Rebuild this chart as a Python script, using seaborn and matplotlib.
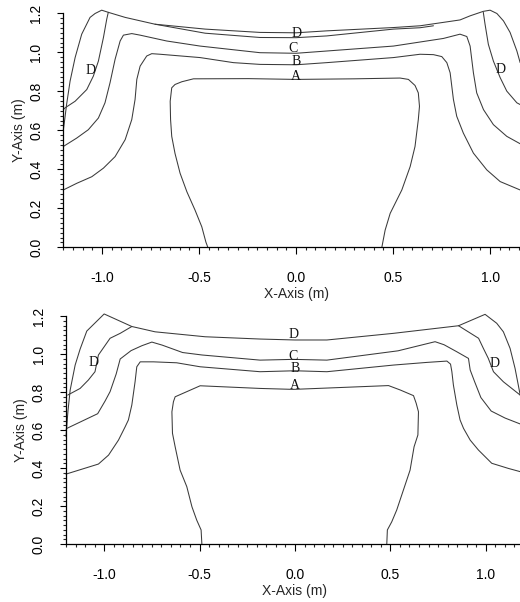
import matplotlib
matplotlib.use("Agg")
import matplotlib.pyplot as plt
from matplotlib.ticker import MultipleLocator, FormatStrFormatter
import seaborn as sns
import pandas as pd

# ---- contour polylines, upper panel (x, y in metres) ----
top_A = [(-0.455, 0.0), (-0.465, 0.027), (-0.486, 0.105), (-0.521, 0.191), (-0.563, 0.285),
         (-0.598, 0.380), (-0.624, 0.481), (-0.641, 0.569), (-0.647, 0.655), (-0.649, 0.749),
         (-0.641, 0.818), (-0.624, 0.835), (-0.589, 0.849), (-0.529, 0.864), (-0.246, 0.865),
         (0.0, 0.861), (0.30, 0.864), (0.536, 0.868), (0.579, 0.861), (0.613, 0.830),
         (0.630, 0.792), (0.636, 0.723), (0.630, 0.655), (0.613, 0.517), (0.588, 0.414),
         (0.545, 0.294), (0.485, 0.174), (0.459, 0.088), (0.442, 0.0)]
top_B = [(-1.2, 0.294), (-1.131, 0.328), (-1.053, 0.362), (-0.993, 0.406), (-0.933, 0.465),
         (-0.881, 0.552), (-0.847, 0.655), (-0.830, 0.758), (-0.821, 0.861), (-0.804, 0.929),
         (-0.770, 0.981), (-0.744, 0.993), (-0.701, 0.990), (-0.495, 0.973), (-0.323, 0.947),
         (-0.186, 0.938), (0.0, 0.936), (0.158, 0.947), (0.502, 0.973), (0.639, 0.990),
         (0.708, 0.988), (0.751, 0.978), (0.777, 0.947), (0.794, 0.895), (0.811, 0.758),
         (0.828, 0.672), (0.862, 0.586), (0.914, 0.483), (0.983, 0.397), (1.052, 0.337),
         (1.155, 0.294)]
top_C = [(-1.2, 0.517), (-1.131, 0.560), (-1.071, 0.603), (-1.019, 0.663), (-0.985, 0.741),
         (-0.959, 0.844), (-0.933, 0.964), (-0.907, 1.058), (-0.890, 1.088), (-0.847, 1.096),
         (-0.804, 1.088), (-0.667, 1.058), (-0.495, 1.032), (-0.186, 0.998), (0.0, 0.995),
         (0.502, 1.032), (0.759, 1.071), (0.845, 1.093), (0.880, 1.081), (0.897, 1.032),
         (0.914, 0.895), (0.931, 0.792), (0.966, 0.706), (1.017, 0.629), (1.086, 0.569),
         (1.155, 0.531)]
top_D_outer = [(-1.2, 0.600), (-1.192, 0.660), (-1.183, 0.732), (-1.165, 0.852), (-1.139, 0.973),
               (-1.105, 1.093), (-1.062, 1.179), (-1.036, 1.199), (-1.002, 1.216), (-0.968, 1.205),
               (-0.881, 1.179), (-0.727, 1.144), (-0.469, 1.119), (-0.186, 1.102), (0.0, 1.100),
               (0.158, 1.110), (0.502, 1.127), (0.639, 1.136), (0.845, 1.166), (0.897, 1.187),
               (0.965, 1.210), (1.0, 1.216), (1.035, 1.199), (1.069, 1.161), (1.103, 1.102),
               (1.138, 1.007), (1.155, 0.947)]
top_D_lower = [(-0.727, 1.144), (-0.469, 1.098), (-0.186, 1.076), (0.0, 1.075), (0.158, 1.084),
               (0.502, 1.119), (0.639, 1.126), (0.708, 1.136)]
top_D_left = [(-1.2, 0.706), (-1.191, 0.715), (-1.139, 0.749), (-1.079, 0.809), (-1.045, 0.878),
              (-1.019, 0.955), (-0.993, 1.076), (-0.976, 1.170), (-0.968, 1.205)]
top_D_right = [(0.965, 1.205), (0.974, 1.144), (0.991, 1.041), (1.017, 0.955), (1.052, 0.870),
               (1.086, 0.801), (1.138, 0.741), (1.155, 0.732)]

# ---- contour polylines, lower panel ----
bot_A = [(-0.488, 0.0), (-0.492, 0.074), (-0.515, 0.126), (-0.540, 0.196), (-0.567, 0.302),
         (-0.602, 0.389), (-0.628, 0.512), (-0.642, 0.583), (-0.645, 0.696), (-0.637, 0.749),
         (-0.628, 0.775), (-0.567, 0.802), (-0.497, 0.833), (-0.183, 0.819), (-0.008, 0.814),
         (0.167, 0.821), (0.490, 0.834), (0.551, 0.811), (0.621, 0.781), (0.635, 0.741),
         (0.647, 0.696), (0.644, 0.574), (0.624, 0.512), (0.603, 0.389), (0.568, 0.284),
         (0.533, 0.179), (0.507, 0.117), (0.484, 0.074), (0.481, 0.0)]
bot_B = [(-1.2, 0.368), (-1.030, 0.421), (-0.977, 0.468), (-0.925, 0.547), (-0.890, 0.617),
         (-0.873, 0.653), (-0.855, 0.732), (-0.838, 0.854), (-0.829, 0.933), (-0.811, 0.959),
         (-0.742, 0.959), (-0.620, 0.954), (-0.497, 0.933), (-0.183, 0.907), (0.0, 0.912),
         (0.167, 0.907), (0.516, 0.942), (0.691, 0.956), (0.796, 0.963), (0.815, 0.947),
         (0.822, 0.907), (0.830, 0.837), (0.848, 0.732), (0.865, 0.653), (0.883, 0.609),
         (0.918, 0.547), (0.961, 0.495), (1.031, 0.425), (1.118, 0.398), (1.180, 0.381)]
bot_C = [(-1.2, 0.604), (-1.195, 0.609), (-1.034, 0.686), (-0.995, 0.753), (-0.969, 0.802),
         (-0.937, 0.895), (-0.916, 0.974), (-0.859, 1.018), (-0.802, 1.044), (-0.750, 1.063),
         (-0.696, 1.047), (-0.589, 1.008), (-0.487, 0.995), (-0.183, 0.968), (-0.008, 0.972),
         (0.167, 0.968), (0.540, 1.017), (0.734, 1.065), (0.781, 1.049), (0.848, 1.012),
         (0.909, 0.977), (0.918, 0.916), (0.941, 0.855), (0.974, 0.771), (1.028, 0.700),
         (1.101, 0.663), (1.180, 0.632)]
bot_D_outer = [(-1.2, 0.565), (-1.190, 0.696), (-1.178, 0.811), (-1.152, 0.942), (-1.126, 1.026),
               (-1.091, 1.121), (-1.0, 1.211), (-0.855, 1.145), (-0.733, 1.117), (-0.471, 1.091),
               (-0.183, 1.079), (0.0, 1.074), (0.167, 1.074), (0.516, 1.109), (0.857, 1.149),
               (0.996, 1.209), (1.057, 1.162), (1.092, 1.117), (1.127, 1.030), (1.153, 0.925),
               (1.170, 0.837), (1.180, 0.784)]
bot_D_left = [(-1.191, 0.784), (-1.126, 0.819), (-1.083, 0.863), (-1.048, 0.907), (-1.030, 0.995),
              (-0.969, 1.083), (-0.916, 1.109), (-0.855, 1.145)]
bot_D_right = [(0.857, 1.149), (0.962, 1.083), (0.987, 1.030), (1.013, 0.977), (1.040, 0.907),
               (1.092, 0.854), (1.180, 0.784)]

# ---- contour level labels (letter, x, y) ----
top_labels = [("D", -1.062, 0.907), ("D", 0.0, 1.098), ("C", -0.014, 1.019),
              ("B", 0.0, 0.955), ("A", 0.0, 0.875), ("D", 1.055, 0.912)]
bot_labels = [("D", -1.057, 0.958), ("D", -0.008, 1.105), ("C", -0.008, 0.989),
              ("B", 0.0, 0.925), ("A", 0.0, 0.837), ("D", 1.048, 0.951)]

x_ticks = [-1.0, -0.5, 0.0, 0.5, 1.0]
y_ticks = [0.0, 0.2, 0.4, 0.6, 0.8, 1.0, 1.2]

sns.set_style("ticks")
plt.rcParams["font.family"] = ["Liberation Sans", "DejaVu Sans"]
plt.rcParams["axes.unicode_minus"] = False

LINE = "#3a3a3a"

fig = plt.figure(figsize=(5.2, 6.02), dpi=100)
ax_top = fig.add_axes([0.1217, 0.5892, 0.8954, 0.3887])
ax_bot = fig.add_axes([0.1269, 0.0963, 0.8808, 0.3787])


def draw_panel(ax, lines, labels):
    for seg in lines:
        df = pd.DataFrame(seg, columns=["x", "y"])
        sns.lineplot(data=df, x="x", y="y", sort=False, estimator=None, ax=ax,
                     color=LINE, linewidth=0.75, clip_on=False)
    for letter, lx, ly in labels:
        ax.text(lx, ly, letter, ha="center", va="center", fontsize=10,
                family=["Liberation Serif", "DejaVu Serif"], color="#111111")

    ax.set_xlim(-1.2, 1.2)
    ax.set_ylim(0.0, 1.2)
    ax.set_xticks(x_ticks)
    ax.set_yticks(y_ticks)
    ax.xaxis.set_minor_locator(MultipleLocator(0.05))
    ax.yaxis.set_minor_locator(MultipleLocator(0.025))
    ax.xaxis.set_major_formatter(FormatStrFormatter("%.1f"))
    ax.yaxis.set_major_formatter(FormatStrFormatter("%.1f"))
    ax.tick_params(axis="x", which="major", direction="out", length=5, width=0.8,
                   pad=12, labelsize=10, colors="black")
    ax.tick_params(axis="x", which="minor", direction="out", length=2.5, width=0.8)
    ax.tick_params(axis="y", which="major", direction="out", length=4.5, width=0.8,
                   pad=10, labelsize=10, labelrotation=90, colors="black")
    ax.tick_params(axis="y", which="minor", direction="out", length=2.2, width=0.8)
    for lab in ax.get_yticklabels():
        lab.set_va("center")
    ax.set_xlabel("X-Axis (m)", fontsize=10, labelpad=1.5)
    ax.set_ylabel("Y-Axis (m)", fontsize=10, labelpad=2.5)
    sns.despine(ax=ax)
    for sp in ("left", "bottom"):
        ax.spines[sp].set_linewidth(0.9)
        ax.spines[sp].set_color("black")
    ax.grid(False)


draw_panel(ax_top, [top_A, top_B, top_C, top_D_outer, top_D_lower, top_D_left, top_D_right],
           top_labels)
draw_panel(ax_bot, [bot_A, bot_B, bot_C, bot_D_outer, bot_D_left, bot_D_right], bot_labels)

fig.savefig("out.png", dpi=100)
